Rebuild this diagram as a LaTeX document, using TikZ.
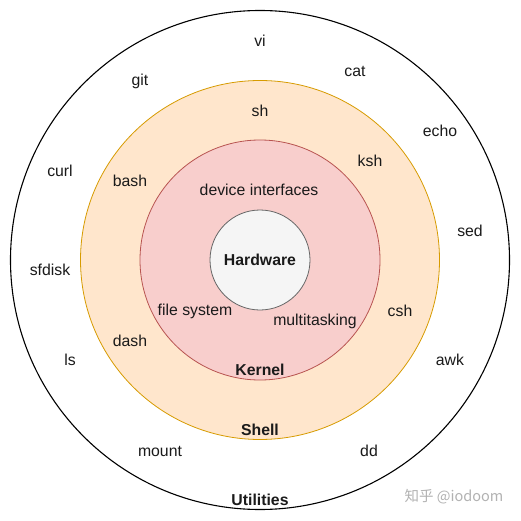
\documentclass[tikz,border=0pt]{standalone}
\usepackage{fontspec}
\setmainfont{Liberation Sans}
\newfontfamily\cjkfont{Noto Sans CJK SC}
\definecolor{shellfill}{HTML}{FFE6CC}
\definecolor{shelldraw}{HTML}{D79B00}
\definecolor{kernfill}{HTML}{F8CECC}
\definecolor{kerndraw}{HTML}{B85450}
\definecolor{hwfill}{HTML}{F5F5F5}
\definecolor{hwdraw}{HTML}{666666}
\definecolor{txt}{HTML}{1A1A1A}
\begin{document}
\begin{tikzpicture}[x=1pt,y=-1pt,
  ring/.style={circle,inner sep=0pt,minimum size=#1},
  lbl/.style={font=\fontsize{15.8}{18}\selectfont,text=txt,inner sep=0pt},
  blbl/.style={font=\fontsize{15.8}{18}\selectfont\bfseries,text=txt,inner sep=0pt}]
\useasboundingbox[fill=white] (0,0) rectangle (521,521);
\node[ring=499pt,draw=black,line width=1.1pt,fill=white] (util) at (260,260) {};
\node[ring=359pt,draw=shelldraw,line width=0.8pt,fill=shellfill] (shell) at (260,260) {};
\node[ring=240pt,draw=kerndraw,line width=0.8pt,fill=kernfill] (kernel) at (260,260) {};
\node[ring=100pt,draw=hwdraw,line width=0.8pt,fill=hwfill,blbl] (hw) at (260,260) {Hardware};
% utilities
\node[lbl] (vi) at (260,41) {vi};
\node[lbl] (git) at (140,81) {git};
\node[lbl] (cat) at (355,71) {cat};
\node[lbl] (echo) at (440,131) {echo};
\node[lbl] (curl) at (60,171) {curl};
\node[lbl] (sed) at (470,231) {sed};
\node[lbl] (sfdisk) at (50,270) {sfdisk};
\node[lbl] (ls) at (70,360) {ls};
\node[lbl] (awk) at (450,360) {awk};
\node[lbl] (mount) at (160,451) {mount};
\node[lbl] (dd) at (369,451) {dd};
\node[blbl] (utill) at (260,500) {Utilities};
% shells
\node[lbl] (sh) at (260,111) {sh};
\node[lbl] (ksh) at (370,161) {ksh};
\node[lbl] (bash) at (130,181) {bash};
\node[lbl] (csh) at (400,311) {csh};
\node[lbl] (dash) at (130,341) {dash};
\node[blbl] (shelll) at (260,430) {Shell};
% kernel
\node[lbl] (dev) at (259,190) {device interfaces};
\node[lbl] (fs) at (195,311) {file system};
\node[lbl] (mt) at (315,321) {multitasking};
\node[blbl] (kernl) at (260,370) {Kernel};
% watermark
\node[font=\cjkfont\fontsize{14.5}{16}\selectfont,text=black!30,inner sep=0pt] (wm) at (454,497) {知乎 @iodoom};
\end{tikzpicture}
\end{document}
